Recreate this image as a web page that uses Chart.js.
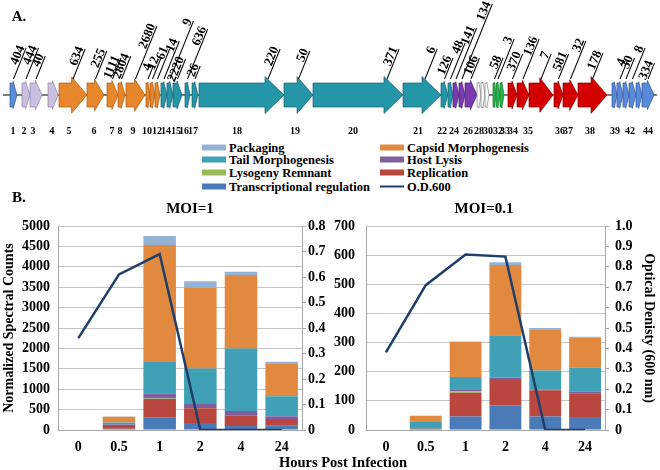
<!DOCTYPE html>
<html>
<head>
<meta charset="utf-8">
<script src="https://cdn.jsdelivr.net/npm/chart.js"></script>
<style>
  body { margin: 0; background: #fff; }
  #wrap { position: relative; width: 660px; height: 470px; overflow: hidden;
    font-family: 'Liberation Serif', 'Times New Roman', serif; font-weight: bold; color: #000; }
  canvas { position: absolute; }
  .lbl { position: absolute; white-space: nowrap; line-height: 1; transform: translate(-50%, -50%); }
  .item { position: absolute; white-space: nowrap; font-size: 12.5px; line-height: 13px; transform: translateY(-50%); }
  .sw { display: inline-block; width: 24px; height: 6px; vertical-align: middle; margin-right: 3px; position: relative; top: -1px; }
</style>
</head>
<body>
<div id="wrap">
  <canvas id="map" width="660" height="140" style="left:0;top:0"></canvas>
  <div class="lbl" style="left:19px;top:16px;font-size:15px">A.</div>
  <div class="lbl" style="left:19px;top:197px;font-size:15px">B.</div>
  <div id="legend"></div>
  <canvas id="moi1" width="330" height="250" style="left:0;top:206px"></canvas>
  <canvas id="moi01" width="330" height="250" style="left:330px;top:206px"></canvas>
  <div class="lbl" style="left:190px;top:208px;font-size:15px">MOI=1</div>
  <div class="lbl" style="left:484px;top:208px;font-size:15px">MOI=0.1</div>
  <div class="lbl" style="left:343px;top:462px;font-size:14.5px">Hours Post Infection</div>
</div>
<script>
// ---- panel B data ----
const hours = ['0', '0.5', '1', '2', '4', '24'];
const groupNames = ['Transcriptional regulation', 'Replication', 'Lysogeny Remnant', 'Host Lysis',
  'Tail Morphogenesis', 'Capsid Morphogenesis', 'Packaging'];

// MOI=1, normalized spectral counts (bottom of stack first)
const moi1Transcr = [0, 30, 310, 170, 100, 105];
const moi1Repl    = [0, 90, 450, 365, 260, 165];
const moi1Lysog   = [0, 5, 10, 5, 0, 0];
const moi1Lysis   = [0, 10, 120, 95, 105, 70];
const moi1Tail    = [0, 50, 775, 870, 1530, 490];
const moi1Capsid  = [0, 140, 2870, 1985, 1805, 790];
const moi1Pack    = [0, 5, 220, 155, 80, 50];
const moi1OD      = [0.36, 0.61, 0.69, 0, 0, 0];

// MOI=0.1
const moi01Transcr = [0, 0, 46, 85, 46, 45];
const moi01Repl    = [0, 4, 82, 90, 90, 81];
const moi01Lysog   = [0, 0, 5, 0, 0, 0];
const moi01Lysis   = [0, 0, 7, 4, 3, 5];
const moi01Tail    = [0, 26, 42, 146, 65, 83];
const moi01Capsid  = [0, 19, 120, 241, 142, 103];
const moi01Pack    = [0, 0, 2, 10, 4, 3];
const moi01OD      = [0.38, 0.71, 0.86, 0.85, 0, 0];

// ---- panel A data: genome map (map units) ----
const genomeStart = 3, genomeEnd = 657;
const geneStart = [10, 22, 30, 48, 59, 87, 107, 118, 126, 146, 150, 155, 161, 167, 173, 185, 192, 199, 284, 313,
  403, 441, 448, 453, 459, 465, 477, 481, 485, 493, 496, 500, 508, 517, 529, 554, 563, 578, 612, 617, 623, 629, 636, 642];
const geneEnd = [17, 30, 42, 58, 87, 104, 118, 125, 145, 150, 155, 160, 167, 173, 182, 190, 198, 284, 313, 403,
  441, 448, 453, 459, 465, 477, 481, 485, 489, 496, 500, 504, 517, 529, 553, 563, 578, 607, 617, 623, 629, 636, 642, 654];
// T transcr, U unknown, C capsid, L tail, H lysis, N hypothetical, G lysogeny, R replication
const geneFunc = ['T', 'U', 'U', 'U', 'C', 'C', 'C', 'C', 'C', 'C', 'C', 'C', 'L', 'L', 'L', 'L', 'L', 'L', 'L', 'L',
  'L', 'L', 'L', 'H', 'H', 'H', 'N', 'N', 'N', 'G', 'G', 'G', 'R', 'R', 'R', 'R', 'R', 'R', 'T', 'T', 'T', 'T', 'T', 'T'];
const geneNumText = ['1', '2', '3', '4', '5', '6', '7', '8', '9', '10', '12', '14', '15', '16', '17', '18', '19', '20',
  '21', '22', '24', '26', '28', '30', '32', '33', '34', '35', '36', '37', '38', '39', '42', '44'];
const geneNumPos = [13, 24, 33, 52, 69, 94, 112, 120, 133, 147, 157, 166, 176, 184, 193, 237, 295, 353,
  418, 442, 454, 468, 479, 488, 498, 505, 513, 528, 560, 568, 590, 615, 630, 648];
const countText = ['404', '444', '40', '634', '255', '1111', '2804', '2680', '4', '12', '61', '14', '9', '2220', '636', '26',
  '220', '50', '371', '6', '126', '48', '141', '134', '106', '58', '3', '370', '136', '7', '581', '32', '178', '4', '30', '8', '334'];
const countGene = [1, 2, 3, 5, 6, 7, 8, 9, 10, 11, 12, 13, 14, 15, 16, 17,
  18, 19, 20, 21, 22, 23, 24, 25, 26, 30, 31, 33, 34, 35, 36, 37, 38, 40, 41, 42, 44];

// ---- styles ----
Chart.defaults.font.family = "'Liberation Serif', 'Times New Roman', serif";
Chart.defaults.font.weight = 'bold';
Chart.defaults.color = '#000';

const groupColors = ['#4A7AB8', '#B9473F', '#9BBB59', '#7F5FA0', '#40A0B6', '#E0893F', '#95B3D7'];
const odColor = '#1F3F6B';
const funcFill = { T: '#5A8BDB', U: '#C9BFDF', C: '#E8862B', L: '#2595A8', H: '#7A3AB0', N: '#FFFFFF', G: '#2BB24C', R: '#D40000' };
const funcEdge = { T: '#2F5597', U: '#8E82AE', C: '#A85A10', L: '#17606E', H: '#4B1F73', N: '#808080', G: '#157A2E', R: '#8A0000' };
// leader rise (px) of each count label
const countRise = [31, 31, 23, 30, 28, 21, 23, 53, 13, 20, 30, 38, 58, 20, 50, 13,
  30, 28, 30, 30, 21, 36, 51, 75, 21, 21, 40, 25, 40, 25, 25, 38, 26, 18, 21, 31, 16];

// legend
const legendOrder = [6, 5, 4, 3, 2, 1, 0];
const legend = document.getElementById('legend');
const rowsY = [148, 160, 173, 187];
legendOrder.forEach((g, k) => {
  const el = document.createElement('div');
  el.className = 'item';
  el.style.left = (k % 2 === 0 ? 202 : 380) + 'px';
  el.style.top = rowsY[Math.floor(k / 2)] + 'px';
  el.innerHTML = '<span class="sw" style="background:' + groupColors[g] + '"></span>' + groupNames[g];
  legend.appendChild(el);
});
const odItem = document.createElement('div');
odItem.className = 'item';
odItem.style.left = '380px';
odItem.style.top = rowsY[3] + 'px';
odItem.innerHTML = '<span class="sw" style="height:2px;background:' + odColor + '"></span>O.D.600';
legend.appendChild(odItem);

// arrow shape for a gene
function arrowPath(ctx, x0, x1, cy, body, flare, head) {
  const w = x1 - x0;
  const h = Math.min(head, w * 0.55);
  const f = Math.min(flare, h * 0.4);
  ctx.beginPath();
  ctx.moveTo(x0, cy - body);
  ctx.lineTo(x1 - h, cy - body);
  ctx.lineTo(x1 - h, cy - body - f);
  ctx.lineTo(x1, cy);
  ctx.lineTo(x1 - h, cy + body + f);
  ctx.lineTo(x1 - h, cy + body);
  ctx.lineTo(x0, cy + body);
  ctx.closePath();
}

const geneMap = {
  id: 'geneMap',
  afterDraw(chart, args, o) {
    const {ctx, scales: {x}} = chart;
    const cy = o.trackY;
    ctx.save();
    ctx.strokeStyle = '#000';
    ctx.lineWidth = 1;
    ctx.beginPath();
    ctx.moveTo(x.getPixelForValue(genomeStart), cy);
    ctx.lineTo(x.getPixelForValue(genomeEnd), cy);
    ctx.stroke();

    geneStart.forEach((s, i) => {
      const x0 = x.getPixelForValue(s), x1 = x.getPixelForValue(geneEnd[i]);
      arrowPath(ctx, x0, x1, cy, 12, 6.5, 19);
      ctx.fillStyle = funcFill[geneFunc[i]];
      ctx.fill();
      ctx.strokeStyle = funcEdge[geneFunc[i]];
      ctx.lineWidth = 0.7;
      ctx.stroke();
    });

    ctx.fillStyle = '#000';
    ctx.font = "bold 10px 'Liberation Serif'";
    ctx.textAlign = 'center';
    ctx.textBaseline = 'middle';
    geneNumText.forEach((t, i) => ctx.fillText(t, x.getPixelForValue(geneNumPos[i]), o.numY));

    const ang = 68 * Math.PI / 180;
    ctx.font = "bold 13px 'Liberation Serif'";
    ctx.textAlign = 'right';
    ctx.textBaseline = 'alphabetic';
    countText.forEach((t, i) => {
      const g = countGene[i] - 1;
      const x0 = x.getPixelForValue(geneStart[g]), x1 = x.getPixelForValue(geneEnd[g]);
      const ax = x1 - Math.min(16, (x1 - x0) / 2);
      const len = o.rise[i] / Math.sin(ang);
      ctx.save();
      ctx.translate(ax, cy - 16);
      ctx.rotate(-ang);
      ctx.beginPath();
      ctx.moveTo(0, 0);
      ctx.lineTo(len, 0);
      ctx.lineWidth = 1;
      ctx.strokeStyle = '#000';
      ctx.stroke();
      ctx.fillText(t, len, -1.5);
      ctx.restore();
    });
    ctx.restore();
  }
};

new Chart(document.getElementById('map'), {
  type: 'scatter',
  data: { datasets: [] },
  options: {
    responsive: false,
    animation: false,
    layout: { padding: 0 },
    scales: {
      x: { type: 'linear', min: 0, max: 660, display: false },
      y: { min: 0, max: 1, display: false }
    },
    plugins: {
      legend: { display: false },
      tooltip: { enabled: false },
      geneMap: { trackY: 95, numY: 131, rise: countRise }
    }
  },
  plugins: [geneMap]
});

// stacked bars + O.D. line
function makeChart(id, stacks, od, cfg) {
  const datasets = stacks.map((d, i) => ({
    type: 'bar',
    label: groupNames[i],
    data: d,
    backgroundColor: groupColors[i],
    borderWidth: 0,
    categoryPercentage: 0.8,
    barPercentage: 1,
    yAxisID: 'y',
    order: 1
  }));
  datasets.push({
    type: 'line',
    label: 'O.D.600',
    data: od,
    borderColor: odColor,
    borderWidth: 2.5,
    pointRadius: 0,
    tension: 0,
    yAxisID: 'y1',
    order: 0
  });
  return new Chart(document.getElementById(id), {
    type: 'bar',
    data: { labels: hours, datasets },
    options: {
      responsive: false,
      animation: false,
      layout: { padding: { top: 20, bottom: 2, left: 0, right: 0 } },
      scales: {
        x: {
          stacked: true,
          grid: { display: false, drawTicks: false },
          border: { color: '#A6A6A6' },
          ticks: { font: { size: 14 }, padding: 9 },
          afterFit: a => { a.height = 24; }
        },
        y: {
          stacked: true,
          min: 0, max: cfg.yMax,
          ticks: { stepSize: cfg.yStep, font: { size: 14 }, padding: cfg.yPad, format: { useGrouping: false } },
          grid: { color: '#C4C4C4', drawTicks: false },
          border: { color: '#A6A6A6' },
          title: { display: !!cfg.yTitle, text: cfg.yTitle, font: { size: 14 }, padding: { top: 1, bottom: 0 } },
          afterFit: a => { a.width = cfg.yWidth; }
        },
        y1: {
          position: 'right',
          min: 0, max: cfg.y1Max,
          ticks: { stepSize: 0.1, font: { size: 14 }, padding: cfg.y1Pad },
          grid: { drawOnChartArea: false, drawTicks: true, tickLength: 4, color: '#A6A6A6' },
          border: { color: '#A6A6A6' },
          title: { display: !!cfg.y1Title, text: cfg.y1Title, font: { size: 14 }, padding: { top: 3, bottom: 0 } },
          afterFit: a => { a.width = cfg.y1Width; }
        }
      },
      plugins: { legend: { display: false }, tooltip: { enabled: false } }
    }
  });
}

makeChart('moi1',
  [moi1Transcr, moi1Repl, moi1Lysog, moi1Lysis, moi1Tail, moi1Capsid, moi1Pack], moi1OD,
  { yMax: 5000, yStep: 500, yPad: 8, yWidth: 58, yTitle: 'Normalized Spectral Counts',
    y1Max: 0.8, y1Pad: 2, y1Width: 28 });

makeChart('moi01',
  [moi01Transcr, moi01Repl, moi01Lysog, moi01Lysis, moi01Tail, moi01Capsid, moi01Pack], moi01OD,
  { yMax: 700, yStep: 100, yPad: 11, yWidth: 36,
    y1Max: 1, y1Pad: 6, y1Width: 55, y1Title: 'Optical Denisty (600 nm)' });
</script>
</body>
</html>
